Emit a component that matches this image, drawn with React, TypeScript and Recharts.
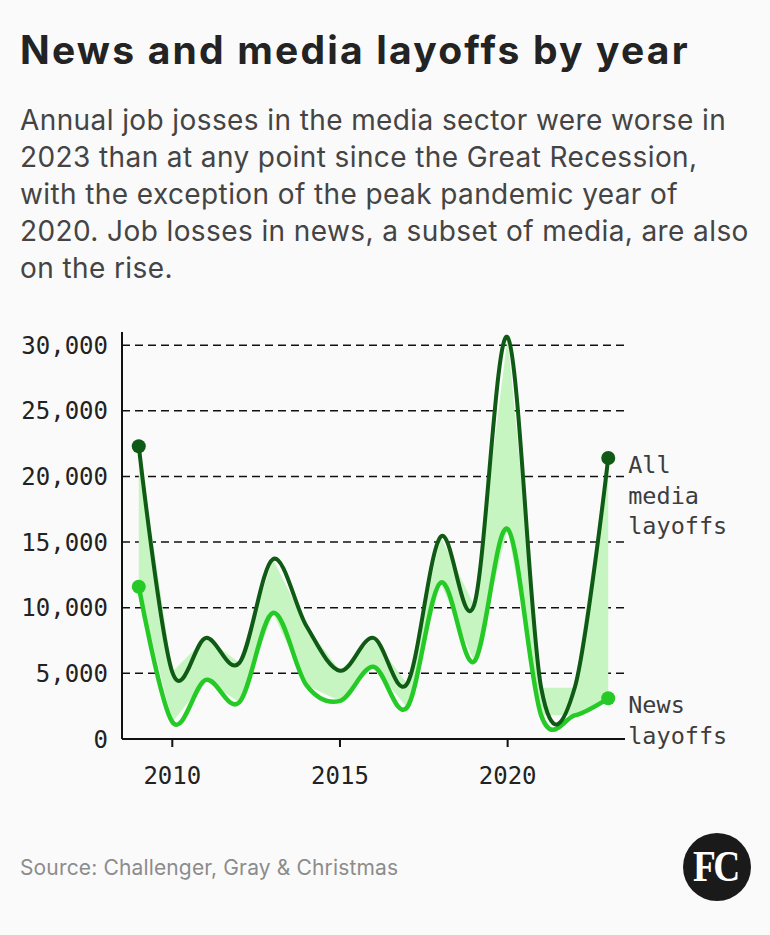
import React from 'react';
import { ComposedChart, Area, Line, XAxis, YAxis, CartesianGrid } from 'recharts';

const years = [2009, 2010, 2011, 2012, 2013, 2014, 2015, 2016, 2017, 2018, 2019, 2020, 2021, 2022, 2023];
const allMedia = [22300, 5100, 7700, 5800, 13700, 8600, 5200, 7700, 4200, 15400, 10200, 30600, 3900, 3900, 21400];
const newsLayoffs = [11600, 1300, 4500, 2800, 9600, 4100, 2900, 5500, 2400, 11900, 5900, 16000, 1800, 1800, 3100];
const yTicks = [0, 5000, 10000, 15000, 20000, 25000, 30000];
const gridValues = [5000, 10000, 15000, 20000, 25000, 30000];
const xTicks = [2010, 2015, 2020];
const allLabel = ['All', 'media', 'layoffs'];
const newsLabel = ['News', 'layoffs'];

const data = years.map((year, i) => ({
  year,
  all: allMedia[i],
  news: newsLayoffs[i],
  band: [newsLayoffs[i], allMedia[i]],
}));

// Catmull-Rom (cardinal, tension 0) curve factory
function catmullRom(context: any) {
  let x0 = NaN, x1 = NaN, x2 = NaN, y0 = NaN, y1 = NaN, y2 = NaN;
  let pt = 0;
  let line: number = NaN;
  const k = 1 / 6;
  const bez = (x: number, y: number) =>
    context.bezierCurveTo(
      x1 + k * (x2 - x0),
      y1 + k * (y2 - y0),
      x2 + k * (x1 - x),
      y2 + k * (y1 - y),
      x2,
      y2
    );
  return {
    areaStart() { line = 0; },
    areaEnd() { line = NaN; },
    lineStart() { x0 = x1 = x2 = y0 = y1 = y2 = NaN; pt = 0; },
    lineEnd() {
      if (pt === 2) context.lineTo(x2, y2);
      else if (pt === 3) bez(x1, y1);
      if (line || (line !== 0 && pt === 1)) context.closePath();
      line = 1 - line;
    },
    point(x: number, y: number) {
      x = +x; y = +y;
      switch (pt) {
        case 0:
          pt = 1;
          if (line) context.lineTo(x, y); else context.moveTo(x, y);
          break;
        case 1:
          pt = 2; x1 = x; y1 = y;
          break;
        case 2:
          pt = 3;
          bez(x, y);
          break;
        default:
          bez(x, y);
          break;
      }
      x0 = x1; x1 = x2; x2 = x;
      y0 = y1; y1 = y2; y2 = y;
    },
  };
}

const fmt = (v: number) => String(v).replace(/\B(?=(\d{3})+(?!\d))/g, ',');

const MONO = '"DejaVu Sans Mono", "Liberation Mono", monospace';
const SANS = 'Inter, "Noto Sans", sans-serif';

const DARK = '#0f5a14';
const BRIGHT = '#26ca26';
const FILL = '#c6f5c1';

const makeDot = (color: string) => (props: any) => {
  const { cx, cy, index } = props;
  if (index === 0 || index === years.length - 1) {
    return <circle key={`d${index}`} cx={cx} cy={cy} r={7} fill={color} stroke="none" />;
  }
  return <g key={`d${index}`} />;
};

const makeLabel = (lines: string[]) => (props: any) => {
  const { x, y, index } = props;
  if (index !== years.length - 1) return <g key={`l${index}`} />;
  return (
    <text
      key={`l${index}`}
      x={x + 20}
      y={y + 7}
      fill="#3d3d3d"
      fontSize={23.5}
      fontFamily={MONO}
      dominantBaseline="central"
    >
      {lines.map((t, i) => (
        <tspan key={i} x={x + 20} dy={i === 0 ? 0 : 30.5}>
          {t}
        </tspan>
      ))}
    </text>
  );
};

export default function App() {
  const subtitle = [
    'Annual job josses in the media sector were worse in',
    '2023 than at any point since the Great Recession,',
    'with the exception of the peak pandemic year of',
    '2020. Job losses in news, a subset of media, are also',
    'on the rise.',
  ];
  return (
    <div
      style={{
        position: 'absolute',
        left: 0,
        top: 0,
        width: 770,
        height: 935,
        background: '#fafafa',
        overflow: 'hidden',
      }}
    >
      <div
        style={{
          position: 'absolute',
          left: 20,
          top: 27,
          fontFamily: SANS,
          fontWeight: 700,
          fontSize: 39,
          lineHeight: '46px',
          color: '#232323',
          whiteSpace: 'nowrap',
          letterSpacing: 2.2,
        }}
      >
        News and media layoffs by year
      </div>
      <div
        style={{
          position: 'absolute',
          left: 20,
          top: 102,
          fontFamily: SANS,
          fontSize: 28,
          lineHeight: '37px',
          color: '#444',
          whiteSpace: 'nowrap',
          letterSpacing: 0.4,
        }}
      >
        {subtitle.map((s, i) => (
          <div key={i}>{s}</div>
        ))}
      </div>
      <div style={{ position: 'absolute', left: 0, top: 300 }}>
        <ComposedChart
          width={770}
          height={500}
          data={data}
          margin={{ top: 32, right: 145, bottom: 0, left: 0 }}
        >
          <CartesianGrid
            horizontal
            vertical={false}
            horizontalValues={gridValues}
            stroke="#111"
            strokeWidth={1.5}
            strokeDasharray="8 5"
          />
          <XAxis
            dataKey="year"
            type="number"
            domain={[2008.5, 2023.5]}
            ticks={xTicks}
            interval={0}
            height={61}
            tickSize={8}
            tickMargin={20}
            axisLine={{ stroke: '#111', strokeWidth: 2 }}
            tickLine={{ stroke: '#111', strokeWidth: 2 }}
            tick={{ fill: '#222', fontSize: 24, fontFamily: MONO }}
            allowDataOverflow
          />
          <YAxis
            type="number"
            domain={[0, 31000]}
            ticks={yTicks}
            interval={0}
            width={122}
            tickSize={0}
            tickMargin={14}
            tickLine={false}
            axisLine={{ stroke: '#111', strokeWidth: 2 }}
            tick={{ fill: '#222', fontSize: 24, fontFamily: MONO }}
            tickFormatter={fmt}
            allowDataOverflow
          />
          <Area
            dataKey="band"
            type="linear"
            fill={FILL}
            fillOpacity={1}
            stroke="none"
            dot={false}
            activeDot={false}
            isAnimationActive={false}
          />
          <Line
            dataKey="news"
            type={catmullRom as any}
            stroke={BRIGHT}
            strokeWidth={4.5}
            dot={makeDot(BRIGHT)}
            activeDot={false}
            label={makeLabel(newsLabel)}
            isAnimationActive={false}
          />
          <Line
            dataKey="all"
            type={catmullRom as any}
            stroke={DARK}
            strokeWidth={4}
            dot={makeDot(DARK)}
            activeDot={false}
            label={makeLabel(allLabel)}
            isAnimationActive={false}
          />
        </ComposedChart>
      </div>
      <div
        style={{
          position: 'absolute',
          left: 20,
          top: 853,
          fontFamily: SANS,
          fontSize: 21,
          lineHeight: '30px',
          color: '#8c8c8c',
          whiteSpace: 'nowrap',
          letterSpacing: 0.15,
        }}
      >
        Source: Challenger, Gray &amp; Christmas
      </div>
      <div
        style={{
          position: 'absolute',
          left: 683,
          top: 833,
          width: 68,
          height: 68,
          borderRadius: '50%',
          background: '#1a1a1a',
          display: 'flex',
          alignItems: 'center',
          justifyContent: 'center',
        }}
      >
        <span
          style={{
            fontFamily: '"Liberation Serif", "DejaVu Serif", serif',
            fontWeight: 700,
            fontSize: 44,
            color: '#fff',
            letterSpacing: -3,
            display: 'inline-block',
            transform: 'scaleX(0.85)',
            lineHeight: '44px',
            marginLeft: -3,
          }}
        >
          FC
        </span>
      </div>
    </div>
  );
}
